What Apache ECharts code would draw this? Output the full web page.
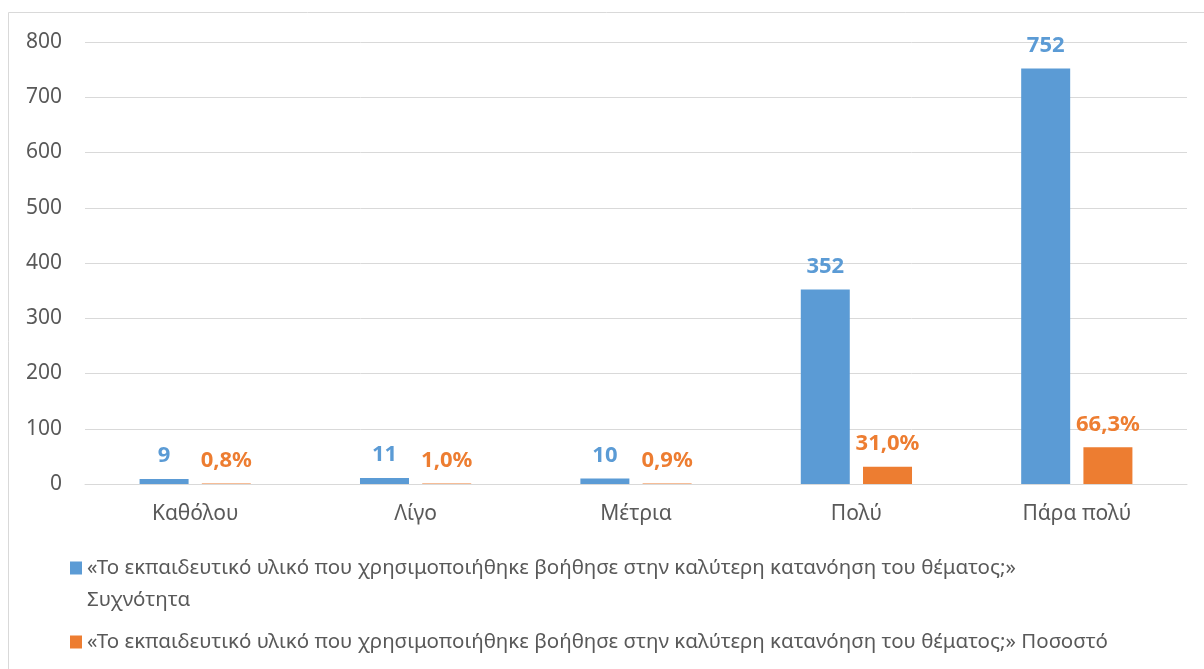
<!DOCTYPE html>
<html>
<head>
<meta charset="utf-8">
<script src="https://cdn.jsdelivr.net/npm/echarts@6/dist/echarts.min.js"></script>
<style>
  html, body { margin: 0; padding: 0; background: #fff; }
  #chart { width: 1204px; height: 669px; }
</style>
</head>
<body>
<div id="chart"></div>
<script>
var categories = ['Καθόλου', 'Λίγο', 'Μέτρια', 'Πολύ', 'Πάρα πολύ'];
var frequency = [9, 11, 10, 352, 752];
var percent = [0.8, 1.0, 0.9, 31.0, 66.3];
var yTicks = [0, 100, 200, 300, 400, 500, 600, 700, 800];

var nameFreq = '«Το εκπαιδευτικό υλικό που χρησιμοποιήθηκε βοήθησε στην καλύτερη κατανόηση του θέματος;» Συχνότητα';
var namePct = '«Το εκπαιδευτικό υλικό που χρησιμοποιήθηκε βοήθησε στην καλύτερη κατανόηση του θέματος;» Ποσοστό';

var FONT = '"Noto Sans", sans-serif';
var BLUE = '#5B9BD5';
var ORANGE = '#ED7D31';

var myChart = echarts.init(document.getElementById('chart'));

var option = {
    animation: false,
    textStyle: { fontFamily: FONT },
    graphic: [{
        type: 'rect',
        shape: { x: 8.5, y: 12.5, width: 1400, height: 900 },
        style: { fill: 'none', stroke: '#d9d9d9', lineWidth: 1 },
        silent: true
    }],
    grid: { left: 85, right: 17, top: 42, bottom: 185, containLabel: false },
    legend: [{
        data: [nameFreq],
        left: 70,
        top: 520,
        padding: 0,
        itemWidth: 12,
        itemHeight: 13,
        icon: 'rect',
        // blank first line keeps the marker level with the first text line
        formatter: function(n) { return '\n' + n.replace('» Συχνότητα', '»\nΣυχνότητα'); },
        textStyle: { fontFamily: FONT, fontSize: 20.5, color: '#595959', lineHeight: 32 }
    }, {
        data: [namePct],
        left: 70,
        top: 630,
        padding: 0,
        itemWidth: 12,
        itemHeight: 13,
        icon: 'rect',
        textStyle: { fontFamily: FONT, fontSize: 20.5, color: '#595959', lineHeight: 24 }
    }],
    xAxis: {
        type: 'category',
        data: categories,
        axisTick: { show: false },
        axisLine: { lineStyle: { color: '#d9d9d9', width: 1 } },
        axisLabel: { color: '#595959', fontSize: 21, margin: 20, fontFamily: FONT }
    },
    yAxis: {
        type: 'value',
        min: yTicks[0],
        max: yTicks[yTicks.length - 1],
        interval: 100,
        axisLine: { show: false },
        axisTick: { show: false },
        splitLine: { lineStyle: { color: '#d9d9d9', width: 1 } },
        axisLabel: { color: '#595959', fontSize: 21, margin: 23, fontFamily: FONT }
    },
    series: [{
        name: nameFreq,
        type: 'bar',
        data: frequency,
        barWidth: 49,
        barGap: '27%',
        itemStyle: { color: BLUE },
        label: {
            show: true,
            position: 'top',
            distance: 12,
            color: BLUE,
            fontWeight: 'bold',
            fontSize: 22,
            fontFamily: FONT
        }
    }, {
        name: namePct,
        type: 'bar',
        data: percent,
        barWidth: 49,
        itemStyle: { color: ORANGE },
        label: {
            show: true,
            position: 'top',
            distance: 12,
            color: ORANGE,
            fontWeight: 'bold',
            fontSize: 22,
            fontFamily: FONT,
            formatter: function(p) { return p.value.toFixed(1).replace('.', ',') + '%'; }
        }
    }]
};

myChart.setOption(option);

window.addEventListener('resize', function() {
    myChart.resize();
});
</script>
</body>
</html>
